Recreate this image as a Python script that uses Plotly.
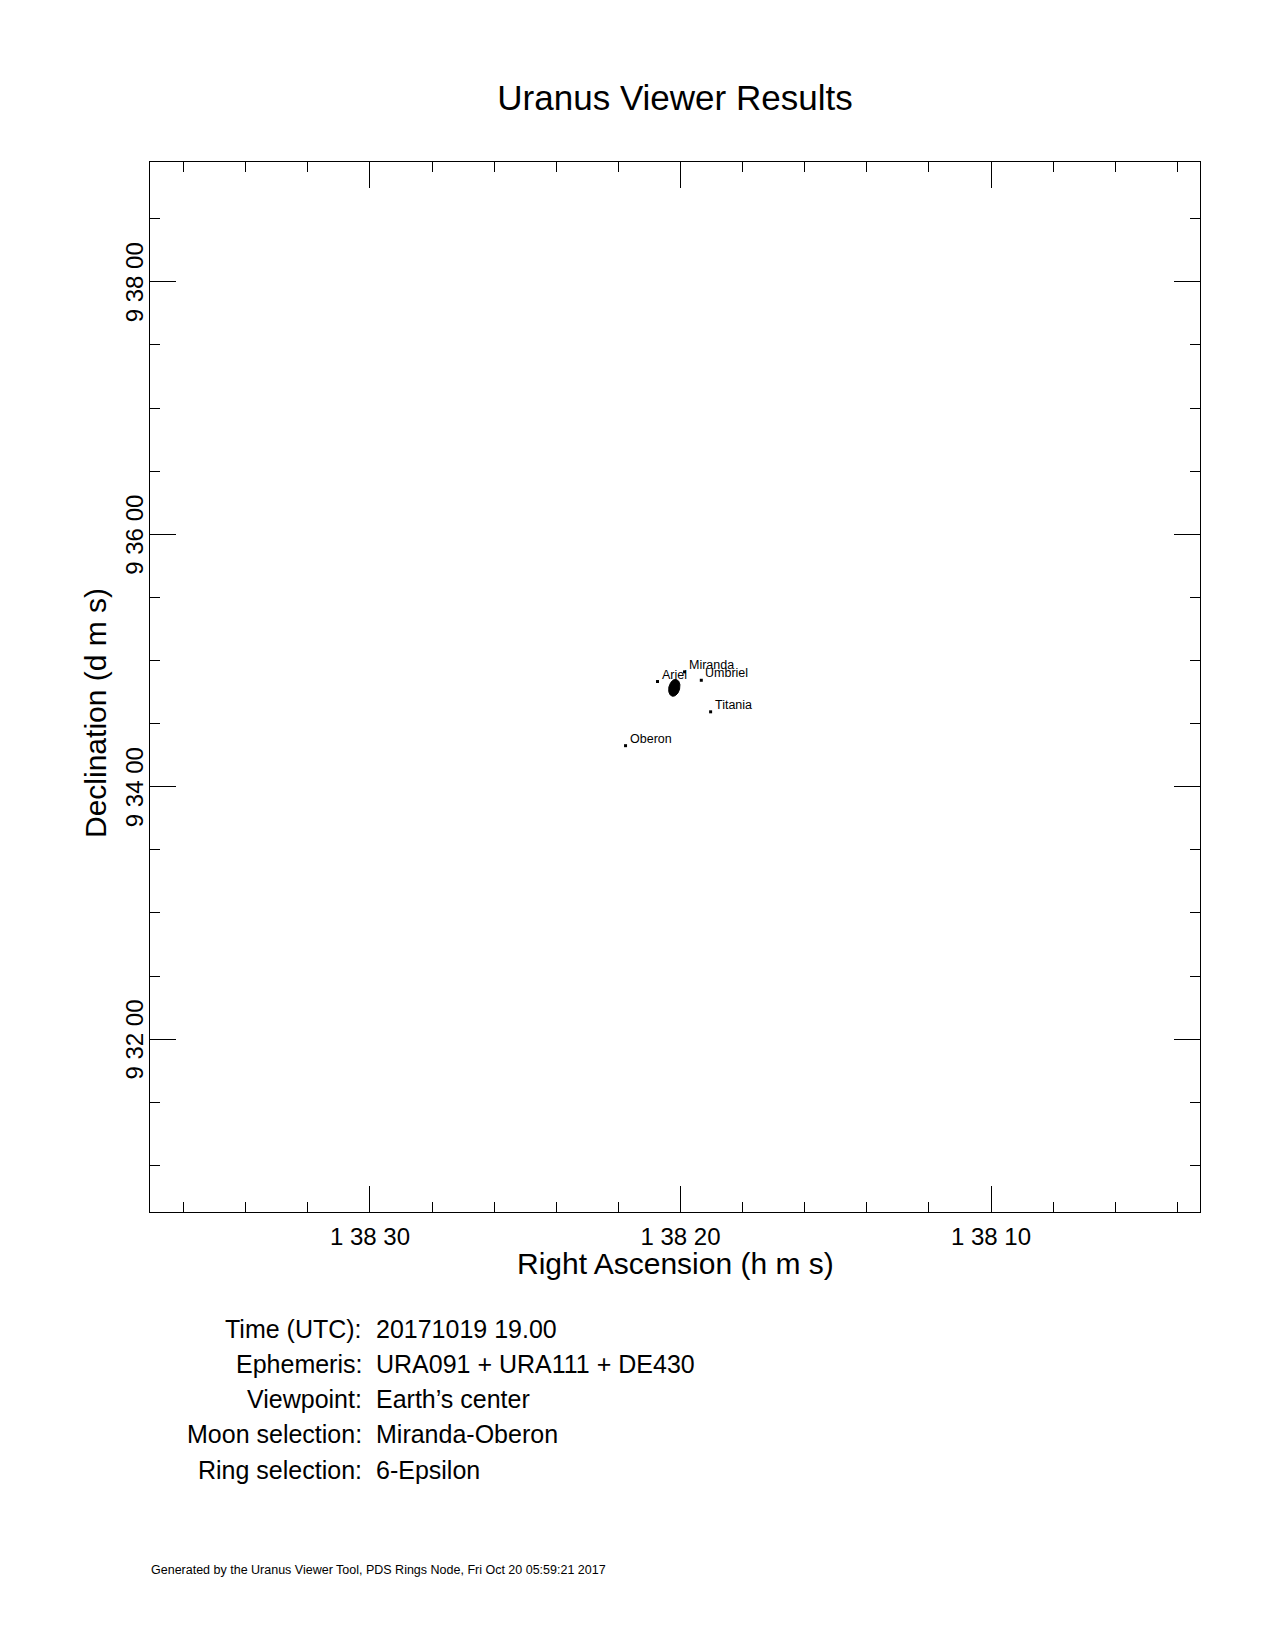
import numpy as np
import plotly.graph_objects as go

# ---------------- data ----------------
# RA expressed as seconds of time after 1h 38m; Dec as arcsec after +9d 30'
moon_names = ["Miranda", "Ariel", "Umbriel", "Titania", "Oberon"]
moon_ra_s = [19.87, 20.74, 19.33, 19.03, 21.77]
moon_dec_as = [294.6, 290.0, 290.6, 275.6, 259.5]

planet_ra_s = 20.20
planet_dec_as = 287.0
ring_semi_major_as = 4.1
ring_semi_minor_as = 2.6
ring_tilt_deg = 14.0
dec_deg = 9.578

ra_range = [37.085, 3.269]
dec_range = [37.8, 537.0]
ra_tick_vals = [10, 20, 30]
ra_tick_text = ["1 38 10", "1 38 20", "1 38 30"]
dec_tick_vals = [120, 240, 360, 480]
dec_tick_text = ["9 32 00", "9 34 00", "9 36 00", "9 38 00"]

info_labels = ["Time (UTC):", "Ephemeris:", "Viewpoint:", "Moon selection:", "Ring selection:"]
info_values = ["20171019 19.00", "URA091 + URA111 + DE430", "Earth\u2019s center",
               "Miranda-Oberon", "6-Epsilon"]
footer = "Generated by the Uranus Viewer Tool, PDS Rings Node, Fri Oct 20 05:59:21 2017"

# ---------------- layout helpers ----------------
OFF = 8  # default page body margin
W, H = 1275 - OFF, 1650 - OFF
L, T = 150 - OFF, 162 - OFF
PW, PH = 1050, 1050
R, B = W - L - PW, H - T - PH
FONT = "Liberation Sans, Arial, Helvetica, sans-serif"


def px_x(px):
    return (px - OFF - L) / PW


def px_y(py):
    return (T + PH - (py - OFF)) / PH


# planet + ring ellipse from its parameters
t = np.linspace(0, 2 * np.pi, 120)
u = ring_semi_minor_as * np.cos(t)
v = ring_semi_major_as * np.sin(t)
th = np.radians(ring_tilt_deg)
u2 = u * np.cos(th) + v * np.sin(th)
v2 = -u * np.sin(th) + v * np.cos(th)
as_per_s = 15 * np.cos(np.radians(dec_deg))
ell_x = planet_ra_s - u2 / as_per_s
ell_y = planet_dec_as + v2

fig = go.Figure()
fig.add_trace(go.Scatter(x=ell_x, y=ell_y, mode="lines", fill="toself",
                         fillcolor="black", line=dict(color="black", width=1),
                         hoverinfo="skip", showlegend=False))
fig.add_trace(go.Scatter(x=moon_ra_s, y=moon_dec_as, mode="markers",
                         marker=dict(size=3, color="black", symbol="square"),
                         text=moon_names, showlegend=False))

annotations = []
for name, xv, yv in zip(moon_names, moon_ra_s, moon_dec_as):
    annotations.append(dict(x=xv, y=yv, xref="x", yref="y", text=name, showarrow=False,
                            xanchor="left", yanchor="middle", xshift=2, yshift=7,
                            font=dict(family=FONT, size=12.5, color="black")))

# axis titles
annotations.append(dict(x=0.5, y=px_y(1263), xref="paper", yref="paper",
                        text="Right Ascension (h m s)", showarrow=False,
                        xanchor="center", yanchor="middle",
                        font=dict(family=FONT, size=30, color="black")))
annotations.append(dict(x=px_x(95), y=px_y(713), xref="paper", yref="paper",
                        text="Declination (d m s)", showarrow=False, textangle=-90,
                        xanchor="center", yanchor="middle",
                        font=dict(family=FONT, size=30, color="black")))

# info block
for i, (lab, val) in enumerate(zip(info_labels, info_values)):
    yy = px_y(1328.5 + 35.3 * i)
    annotations.append(dict(x=px_x(364), y=yy, xref="paper", yref="paper", text=lab,
                            showarrow=False, xanchor="right", yanchor="middle",
                            font=dict(family=FONT, size=25, color="black")))
    annotations.append(dict(x=px_x(374), y=yy, xref="paper", yref="paper", text=val,
                            showarrow=False, xanchor="left", yanchor="middle",
                            font=dict(family=FONT, size=25, color="black")))

annotations.append(dict(x=px_x(149), y=px_y(1570), xref="paper", yref="paper", text=footer,
                        showarrow=False, xanchor="left", yanchor="middle",
                        font=dict(family=FONT, size=12.5, color="black")))

axis_common = dict(showgrid=False, zeroline=False, showline=True, linecolor="black",
                   linewidth=1, mirror="ticks", ticks="inside", ticklen=26,
                   tickwidth=1, tickcolor="black",
                   tickfont=dict(family=FONT, size=24, color="black"))

fig.update_layout(
    width=W, height=H,
    margin=dict(l=L, r=R, t=T, b=B, autoexpand=False),
    paper_bgcolor="white", plot_bgcolor="white",
    title=dict(text="Uranus Viewer Results", x=0.5, xref="paper",
               xanchor="center", y=1 - (98 - OFF) / H, yref="container", yanchor="middle",
               font=dict(family=FONT, size=35, color="black")),
    xaxis=dict(range=ra_range, tickmode="array", tickvals=ra_tick_vals,
               ticktext=ra_tick_text, ticklabelstandoff=3,
               minor=dict(tickmode="linear", tick0=0, dtick=2, ticks="inside",
                          ticklen=10, tickwidth=1, tickcolor="black"),
               **axis_common),
    yaxis=dict(range=dec_range, tickmode="array", tickvals=dec_tick_vals,
               ticktext=dec_tick_text, tickangle=-90, ticklabelstandoff=-4,
               ticklabelshift=4,
               minor=dict(tickmode="linear", tick0=0, dtick=30, ticks="inside",
                          ticklen=10, tickwidth=1, tickcolor="black"),
               **axis_common),
    annotations=annotations,
    showlegend=False,
)

fig.write_html("out.html")
